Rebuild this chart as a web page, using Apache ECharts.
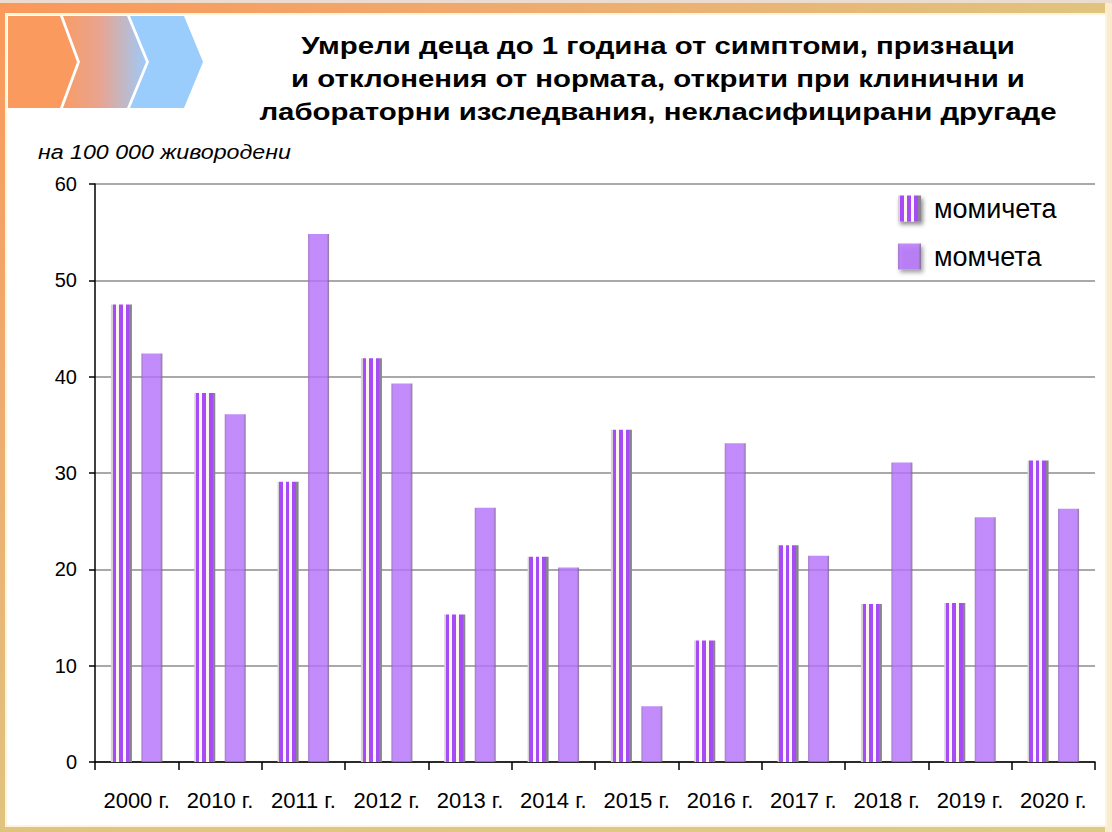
<!DOCTYPE html>
<html>
<head>
<meta charset="utf-8">
<script src="https://cdn.jsdelivr.net/npm/echarts@6/dist/echarts.min.js"></script>
<style>
  html, body { margin: 0; padding: 0; background: #ffffff; }
  #chart { width: 1112px; height: 832px; }
</style>
</head>
<body>
<div id="chart"></div>
<script>
// Infant deaths (under 1 year) per 100 000 live births, by year and sex
const categories = ['2000 г.', '2010 г.', '2011 г.', '2012 г.', '2013 г.', '2014 г.',
                    '2015 г.', '2016 г.', '2017 г.', '2018 г.', '2019 г.', '2020 г.'];
const girls = [47.5, 38.3, 29.1, 41.9, 15.3, 21.3, 34.5, 12.6, 22.5, 16.4, 16.5, 31.3];
const boys  = [42.4, 36.1, 54.8, 39.3, 26.4, 20.2, 5.8, 33.1, 21.4, 31.1, 25.4, 26.3];
const seriesNames = ['момичета', 'момчета'];
const yMin = 0, yMax = 60, yStep = 10;

const titleLines = [
  'Умрели деца до 1 година от симптоми, признаци',
  'и отклонения от нормата, открити при клинични и',
  'лабораторни изследвания, некласифицирани другаде'
];
const unitLabel = 'на 100 000 живородени';

const G = echarts.graphic;

// vertical striped fill for the girls' bars
const purple = '#a64cf6';
const cream = '#fff6ee';
const stripeStops = [
  [0.00, '#d8d2d8'], [0.08, '#d8d2d8'],
  [0.08, purple], [0.24, purple],
  [0.24, cream], [0.38, cream],
  [0.38, purple], [0.56, purple],
  [0.56, cream], [0.70, cream],
  [0.70, purple], [0.88, purple],
  [0.88, '#8a8490'], [1.00, '#8a8490']
].map(s => ({ offset: s[0], color: s[1] }));
const stripeFill = new G.LinearGradient(0, 0, 1, 0, stripeStops);

// translucent lilac fill for the boys' bars
const solidFill = new G.LinearGradient(0, 0, 1, 0, [
  { offset: 0.00, color: 'rgba(150,100,190,0.85)' },
  { offset: 0.10, color: 'rgba(180,114,250,0.82)' },
  { offset: 0.88, color: 'rgba(180,114,250,0.82)' },
  { offset: 1.00, color: 'rgba(120,100,135,0.85)' }
]);

const chart = echarts.init(document.getElementById('chart'), null, { renderer: 'svg' });

const option = {
  animation: false,
  backgroundColor: 'transparent',
  textStyle: { fontFamily: 'Liberation Sans, Arial, sans-serif' },
  graphic: [
    // page frame
    { type: 'rect', z: -10, silent: true,
      shape: { x: 0, y: 0, width: 1112, height: 832 },
      style: { fill: new G.LinearGradient(0, 0, 1, 1, [
        { offset: 0, color: '#fa985a' },
        { offset: 0.25, color: '#eeac70' },
        { offset: 0.5, color: '#e0c47e' },
        { offset: 1, color: '#dccb88' }
      ]) } },
    { type: 'rect', z: -9, silent: true,
      shape: { x: 0, y: 0, width: 1112, height: 3 },
      style: { fill: '#ecdcd0' } },
    { type: 'rect', z: -9, silent: true,
      shape: { x: 1105, y: 3, width: 7, height: 829 },
      style: { fill: '#f8eccc' } },
    { type: 'rect', z: -8, silent: true,
      shape: { x: 6, y: 14, width: 1100, height: 812 },
      style: { fill: '#ffffff', stroke: '#fff3dc', lineWidth: 2 } },
    // chevron ribbon, top left
    { type: 'polygon', z: -5, silent: true,
      shape: { points: [[8, 16], [60, 16], [77, 62], [60, 108], [8, 108]] },
      style: { fill: '#fa9a5e' } },
    { type: 'polygon', z: -5, silent: true,
      shape: { points: [[63, 16], [127, 16], [146, 62], [127, 108], [63, 108], [80, 62]] },
      style: { fill: new G.LinearGradient(0, 0, 1, 0, [
        { offset: 0, color: '#f89c66' },
        { offset: 0.45, color: '#e8a490' },
        { offset: 1, color: '#9ecaf8' }
      ]) } },
    { type: 'polygon', z: -5, silent: true,
      shape: { points: [[130, 16], [184, 16], [203, 62], [184, 108], [130, 108], [149, 62]] },
      style: { fill: '#9accfc' } },
    // heading, slightly widened
    { type: 'text', x: 658, y: 29, scaleX: 1.225, z: 5,
      style: { x: 0, y: 0, text: titleLines.join('\n'), textAlign: 'center',
        fill: '#000', font: 'bold 24px "Liberation Sans", Arial, sans-serif', lineHeight: 33 } },
    // unit note
    { type: 'text', x: 38, y: 142, scaleX: 1.16, z: 5,
      style: { x: 0, y: 0, text: unitLabel, fill: '#000',
        font: 'italic 20px "Liberation Sans", Arial, sans-serif' } }
  ],
  legend: {
    orient: 'vertical',
    left: 893, top: 190,
    itemWidth: 23, itemHeight: 26, itemGap: 21,
    icon: 'rect',
    data: seriesNames,
    textStyle: { fontSize: 27, color: '#000', padding: [0, 0, 0, 8],
      fontFamily: 'Liberation Sans, Arial, sans-serif' },
    itemStyle: { shadowBlur: 4, shadowColor: 'rgba(0,0,0,0.45)', shadowOffsetX: 2, shadowOffsetY: 3 }
  },
  grid: { left: 95, right: 17, top: 184, bottom: 70, containLabel: false },
  xAxis: {
    type: 'category',
    data: categories,
    axisLine: { lineStyle: { color: '#000', width: 1.5 } },
    axisTick: { show: true, length: 8, lineStyle: { color: '#000', width: 1.5 } },
    axisLabel: { color: '#000', fontSize: 22, margin: 27, interval: 0,
      fontFamily: 'Liberation Sans, Arial, sans-serif' }
  },
  yAxis: {
    type: 'value',
    min: yMin, max: yMax, interval: yStep,
    axisLine: { show: true, lineStyle: { color: '#000', width: 1.5 } },
    axisTick: { show: true, length: 6, lineStyle: { color: '#000', width: 1.5 } },
    axisLabel: { color: '#000', fontSize: 20, margin: 18 },
    splitLine: { lineStyle: { color: '#8c8c8c', width: 1.5 } }
  },
  series: [
    {
      name: seriesNames[0], type: 'bar', data: girls,
      barWidth: 21, barGap: '45%',
      itemStyle: { color: stripeFill }
    },
    {
      name: seriesNames[1], type: 'bar', data: boys,
      barWidth: 21,
      itemStyle: { color: solidFill }
    }
  ]
};

chart.setOption(option);
</script>
</body>
</html>
